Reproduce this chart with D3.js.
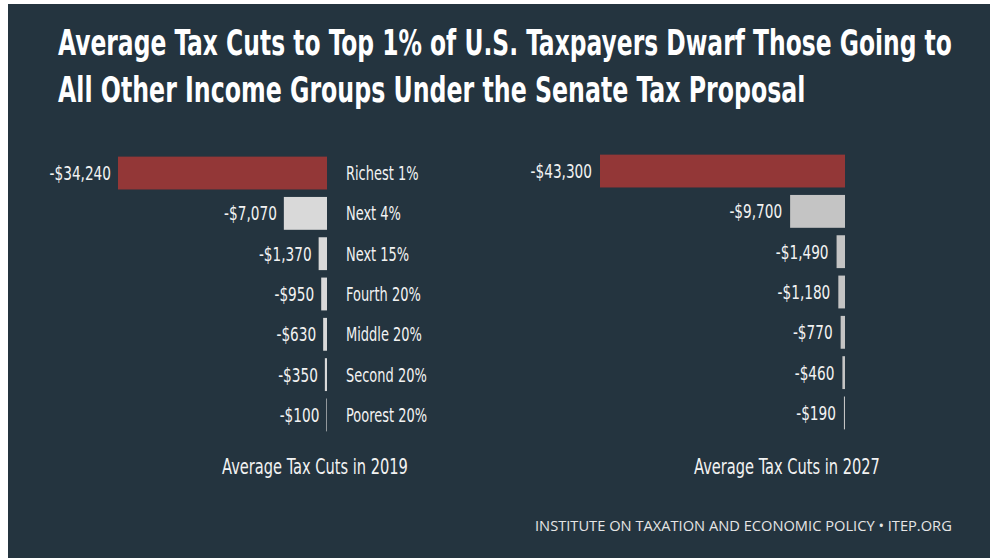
<!DOCTYPE html>
<html>
<head>
<meta charset="utf-8">
<script src="https://cdn.jsdelivr.net/npm/d3@7"></script>
<style>
  html, body { margin: 0; padding: 0; background: #ffffff; }
  svg { display: block; }
</style>
</head>
<body>
<script>
// Income groups, top to bottom
const groups = ["Richest 1%", "Next 4%", "Next 15%", "Fourth 20%", "Middle 20%", "Second 20%", "Poorest 20%"];
// Average tax cut per group (dollars)
const cuts2019 = [34240, 7070, 1370, 950, 630, 350, 100];
const cuts2027 = [43300, 9700, 1490, 1180, 770, 460, 190];
const panelTitles = ["Average Tax Cuts in 2019", "Average Tax Cuts in 2027"];
const titleLines = [
  "Average Tax Cuts to Top 1% of U.S. Taxpayers Dwarf Those Going to",
  "All Other Income Groups Under the Senate Tax Proposal"
];
const footer = "INSTITUTE ON TAXATION AND ECONOMIC POLICY \u2022 ITEP.ORG";

const W = 990, H = 558;
const BG = "#24343f";
const RED = "#933737";
const TEXT = "#f2f2f2";
const condensed = "'DejaVu Sans Condensed', 'Liberation Sans Narrow', sans-serif";

const svg = d3.select("body").append("svg").attr("width", W).attr("height", H);

svg.append("rect").attr("x", 8).attr("y", 4).attr("width", W - 8).attr("height", H - 4).attr("fill", BG);

// narrow a text horizontally about its anchor point, either to a width or by a factor
function squeeze(sel, { width = null, factor = null } = {}) {
  sel.each(function () {
    const el = d3.select(this);
    const w = this.getComputedTextLength();
    if (!w) return;
    const s = width ? width / w : factor;
    const x = +el.attr("x");
    el.attr("transform", `translate(${x},0) scale(${s},1) translate(${-x},0)`);
  });
}

// Title
const titleBaselines = [55, 102];
const titleWidths = [894, 748];
titleLines.forEach((t, i) => {
  const el = svg.append("text")
    .attr("x", 58).attr("y", titleBaselines[i])
    .attr("fill", "#ffffff")
    .attr("font-family", condensed)
    .attr("font-weight", "bold")
    .attr("font-size", 36)
    .text(t);
  squeeze(el, { width: titleWidths[i] });
});

const fmt = v => "-$" + d3.format(",")(v);

// One bar panel: bars grow leftwards from a right edge
function panel(values, opts) {
  const x = d3.scaleLinear().domain([0, d3.max(values)]).range([0, opts.width]);
  const y = d3.scaleBand().domain(groups).range([opts.top, opts.bottom]).paddingInner(0.185).paddingOuter(0.09);
  const g = svg.append("g");

  g.selectAll("rect.bar").data(values).join("rect")
    .attr("class", "bar")
    .attr("x", d => opts.right - x(d))
    .attr("y", (d, i) => y(groups[i]))
    .attr("width", d => x(d))
    .attr("height", y.bandwidth())
    .attr("fill", (d, i) => i === 0 ? RED : opts.grey);

  g.selectAll("text.val").data(values).join("text")
    .attr("class", "val")
    .attr("x", d => opts.right - x(d) - opts.gap)
    .attr("y", (d, i) => y(groups[i]) + y.bandwidth() / 2 + 7)
    .attr("text-anchor", "end")
    .attr("fill", TEXT)
    .attr("font-family", condensed)
    .attr("font-size", 19)
    .text(fmt)
    .call(squeeze, { factor: 0.8 });

  if (opts.labels) {
    g.selectAll("text.cat").data(groups).join("text")
      .attr("class", "cat")
      .attr("x", opts.right + 19)
      .attr("y", d => y(d) + y.bandwidth() / 2 + 7)
      .attr("fill", TEXT)
      .attr("font-family", condensed)
      .attr("font-size", 19)
      .text(d => d)
      .call(squeeze, { factor: 0.76 });
  }

  g.append("text")
    .attr("x", opts.captionX).attr("y", 474)
    .attr("text-anchor", "middle")
    .attr("fill", TEXT)
    .attr("font-family", condensed)
    .attr("font-size", 21)
    .text(opts.caption)
    .call(squeeze, { width: 186 });
}

panel(cuts2019, { right: 327, width: 209, top: 153, bottom: 435, grey: "#d9d9d9", gap: 7, labels: true, caption: panelTitles[0], captionX: 315 });
panel(cuts2027, { right: 845, width: 245, top: 151, bottom: 433, grey: "#c4c4c4", gap: 8, labels: false, caption: panelTitles[1], captionX: 787 });

// Source line
const foot = svg.append("text")
  .attr("x", 535).attr("y", 531.5)
  .attr("fill", "#e6e6e6")
  .attr("font-family", "'Open Sans', 'DejaVu Sans', sans-serif")
  .attr("font-size", 15)
  .text(footer);
squeeze(foot, { width: 417 });
</script>
</body>
</html>
